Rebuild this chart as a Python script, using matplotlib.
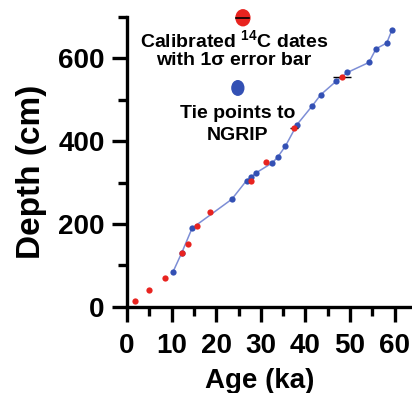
import matplotlib.pyplot as plt
from matplotlib.patches import Ellipse
import numpy as np

plt.rcParams['font.family'] = ['Liberation Sans', 'DejaVu Sans']
plt.rcParams['font.weight'] = 'bold'
plt.rcParams['mathtext.fontset'] = 'custom'
plt.rcParams['mathtext.bf'] = 'Liberation Sans:bold'
plt.rcParams['mathtext.rm'] = 'Liberation Sans:bold'

# calibrated 14C dates (age ka, depth cm, 1 sigma)
c14_age = [1.8, 4.9, 8.5, 12.4, 13.6, 15.8, 18.7, 27.7, 31.1, 37.4, 48.1]
c14_depth = [15, 41, 71, 131, 151, 195, 230, 305, 349, 431, 554]
c14_err = [0.2, 0.2, 0.2, 0.3, 0.3, 0.3, 0.3, 0.4, 0.4, 0.9, 2.0]

# tie points to NGRIP
tie_age = [10.3, 12.3, 14.6, 23.5, 26.8, 27.9, 29.0, 32.6, 33.8, 35.5, 38.1,
           41.5, 43.4, 46.9, 49.4, 54.2, 55.8, 58.2, 59.4]
tie_depth = [84, 131, 190, 260, 305, 314, 324, 348, 362, 388, 440,
             485, 512, 545, 566, 590, 623, 637, 669]

fig = plt.figure(figsize=(4.12, 3.93), dpi=100)
ax = fig.add_axes([0.308, 0.219, 0.687, 0.738])

ax.plot(tie_age, tie_depth, '-', color='#7d8ed6', lw=1.1, zorder=2)
ax.plot(tie_age, tie_depth, 'o', color='#3350b4', ms=4.5, mec='none', zorder=3)
ax.errorbar(c14_age, c14_depth, xerr=c14_err, fmt='o', color='#e8231f',
            ms=4.5, mec='none', ecolor='black', elinewidth=1.0, capsize=0, zorder=4)

ax.set_xlim(0, 63.4)
ax.set_ylim(0, 700)
ax.set_xticks(np.arange(0, 61, 10))
ax.set_xticks(np.arange(5, 61, 10), minor=True)
ax.set_yticks([0, 200, 400, 600])
ax.set_yticks([100, 300, 500, 700], minor=True)

for s in ['top', 'right']:
    ax.spines[s].set_visible(False)
for s in ['left', 'bottom']:
    ax.spines[s].set_linewidth(2.4)

ax.tick_params(which='major', length=11, width=2.4, labelsize=20)
ax.tick_params(which='minor', length=6.5, width=2.4)
ax.tick_params(axis='x', pad=8)
ax.tick_params(axis='y', pad=5)
for lab in ax.get_xticklabels() + ax.get_yticklabels():
    lab.set_fontweight('bold')

ax.set_xlabel('Age (ka)', fontsize=20, fontweight='bold')
ax.set_ylabel('Depth (cm)', fontsize=24, fontweight='bold')
ax.xaxis.set_label_coords(0.47, -0.21)
ax.yaxis.set_label_coords(-0.283, 0.467)

# legend drawn by hand
tr = ax.transAxes
e1 = Ellipse((0.41, 0.997), 0.049, 0.055, transform=tr, color='#e8231f', clip_on=False)
ax.add_patch(e1)
ax.plot([0.387, 0.433], [0.997, 0.997], color='black', lw=1.2, transform=tr, clip_on=False)
ax.text(0.378, 0.917, 'Calibrated $^{\\mathbf{14}}$C dates', transform=tr, ha='center',
        va='center', fontsize=14, fontweight='bold')
ax.text(0.378, 0.848, 'with 1σ error bar', transform=tr, ha='center', va='center',
        fontsize=14, fontweight='bold')
e2 = Ellipse((0.392, 0.755), 0.042, 0.05, transform=tr, color='#3350b4', clip_on=False)
ax.add_patch(e2)
ax.text(0.392, 0.666, 'Tie points to', transform=tr, ha='center', va='center',
        fontsize=14, fontweight='bold')
ax.text(0.392, 0.59, 'NGRIP', transform=tr, ha='center', va='center',
        fontsize=14, fontweight='bold')

fig.savefig('out.png', dpi=100)
